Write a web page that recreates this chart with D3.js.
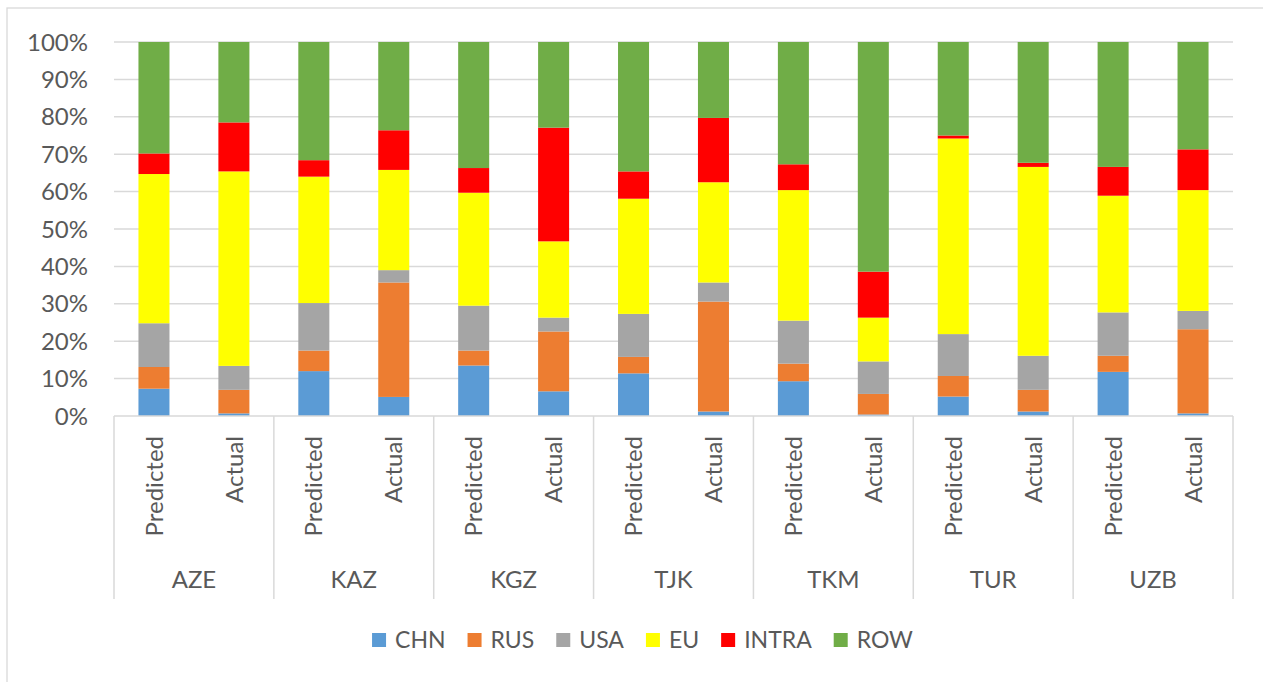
<!DOCTYPE html>
<html>
<head>
<meta charset="utf-8">
<script src="https://cdn.jsdelivr.net/npm/d3@7"></script>
<style>
  body { margin: 0; background: #fff; }
  svg text { font-family: Lato, "Open Sans", sans-serif; fill: #595959; }
</style>
</head>
<body>
<div id="chart"></div>
<script>
// data (shares in %, each bar sums to 100)
var countries = ["AZE", "KAZ", "KGZ", "TJK", "TKM", "TUR", "UZB"];
var kinds = ["Predicted", "Actual"];
var partners = ["CHN", "RUS", "USA", "EU", "INTRA", "ROW"];
var colors = ["#5b9bd5", "#ed7d31", "#a5a5a5", "#ffff00", "#ff0000", "#70ad47"];
var yTicks = [0, 10, 20, 30, 40, 50, 60, 70, 80, 90, 100];

var CHN   = [7.3, 0.7, 12.0, 5.1, 13.5, 6.6, 11.4, 1.2, 9.3, 0.4, 5.2, 1.2, 11.8, 0.7];
var RUS   = [5.8, 6.3, 5.5, 30.6, 4.0, 16.0, 4.4, 29.4, 4.7, 5.5, 5.5, 5.8, 4.3, 22.5];
var USA   = [11.7, 6.4, 12.7, 3.3, 12.0, 3.7, 11.5, 5.1, 11.5, 8.7, 11.2, 9.1, 11.6, 4.9];
var EU    = [39.9, 52.0, 33.8, 26.8, 30.2, 20.4, 30.8, 26.8, 34.9, 11.7, 52.3, 50.5, 31.2, 32.3];
var INTRA = [5.5, 13.1, 4.4, 10.6, 6.6, 30.4, 7.3, 17.2, 6.9, 12.3, 0.8, 1.1, 7.7, 10.9];
var ROW   = [29.8, 21.5, 31.6, 23.6, 33.7, 22.9, 34.6, 20.3, 32.7, 61.4, 25.0, 32.3, 33.4, 28.7];

var series = [CHN, RUS, USA, EU, INTRA, ROW];

var width = 1263, height = 682;
var plotL = 114, plotR = 1233, plotT = 42, plotB = 416;

var rows = [];
countries.forEach(function(c, ci){
  kinds.forEach(function(k, ki){
    var i = ci * 2 + ki;
    var r = {key: c + "-" + k, country: c, kind: k};
    partners.forEach(function(p, pi){ r[p] = series[pi][i]; });
    rows.push(r);
  });
});

var svg = d3.select("#chart").append("svg")
  .attr("width", width)
  .attr("height", height);

// chart frame
svg.append("rect")
  .attr("x", 7).attr("y", 8)
  .attr("width", width).attr("height", height)
  .attr("fill", "none")
  .attr("stroke", "#d9d9d9")
  .attr("stroke-width", 1.3);

var x = d3.scaleBand()
  .domain(rows.map(d => d.key))
  .range([plotL, plotR])
  .paddingInner(0.612)
  .paddingOuter(0.306);

var xGroup = d3.scaleBand()
  .domain(countries)
  .range([plotL, plotR]);

var y = d3.scaleLinear()
  .domain([0, 100])
  .range([plotB, plotT]);

// gridlines
svg.append("g").selectAll("line")
  .data(yTicks.filter(t => t > 0))
  .join("line")
  .attr("x1", plotL).attr("x2", plotR)
  .attr("y1", d => y(d)).attr("y2", d => y(d))
  .attr("stroke", "#d9d9d9")
  .attr("stroke-width", 1.5);

// y labels
svg.append("g").selectAll("text")
  .data(yTicks)
  .join("text")
  .attr("x", 88)
  .attr("y", d => y(d))
  .attr("dy", "0.36em")
  .attr("text-anchor", "end")
  .attr("font-size", 24)
  .text(d => d + "%");

// stacked bars
var stack = d3.stack().keys(partners)(rows);

svg.append("g").selectAll("g")
  .data(stack)
  .join("g")
  .attr("fill", (d, i) => colors[i])
  .selectAll("rect")
  .data(d => d)
  .join("rect")
  .attr("x", d => x(d.data.key))
  .attr("width", x.bandwidth())
  .attr("y", d => y(d[1]))
  .attr("height", d => y(d[0]) - y(d[1]));

// category axis
svg.append("line")
  .attr("x1", plotL).attr("x2", plotR)
  .attr("y1", plotB).attr("y2", plotB)
  .attr("stroke", "#d9d9d9")
  .attr("stroke-width", 1.5);

var seps = countries.map(c => xGroup(c)).concat([plotR]);
svg.append("g").selectAll("line")
  .data(seps)
  .join("line")
  .attr("x1", d => d).attr("x2", d => d)
  .attr("y1", plotB).attr("y2", 599)
  .attr("stroke", "#d9d9d9")
  .attr("stroke-width", 1.5);

svg.append("g").selectAll("text")
  .data(rows)
  .join("text")
  .attr("transform", d => "translate(" + (x(d.key) + x.bandwidth() / 2) + ",436) rotate(-90)")
  .attr("dy", "0.36em")
  .attr("text-anchor", "end")
  .attr("font-size", 24)
  .text(d => d.kind);

svg.append("g").selectAll("text")
  .data(countries)
  .join("text")
  .attr("x", d => xGroup(d) + xGroup.bandwidth() / 2)
  .attr("y", 579)
  .attr("dy", "0.36em")
  .attr("text-anchor", "middle")
  .attr("font-size", 24)
  .text(d => d);

// legend
var legend = svg.append("g");
var items = legend.selectAll("g")
  .data(partners)
  .join("g");
items.append("rect")
  .attr("width", 14).attr("height", 14)
  .attr("y", 633)
  .attr("fill", (d, i) => colors[i]);
items.append("text")
  .attr("x", 23)
  .attr("y", 640)
  .attr("dy", "0.36em")
  .attr("font-size", 23)
  .text(d => d);

var pos = 0;
items.each(function(){
  var g = d3.select(this);
  g.attr("transform", "translate(" + pos + ",0)");
  pos += 23 + g.select("text").node().getComputedTextLength() + 22;
});
var total = pos - 22;
legend.attr("transform", "translate(" + (642.5 - total / 2) + ",0)");
</script>
</body>
</html>
